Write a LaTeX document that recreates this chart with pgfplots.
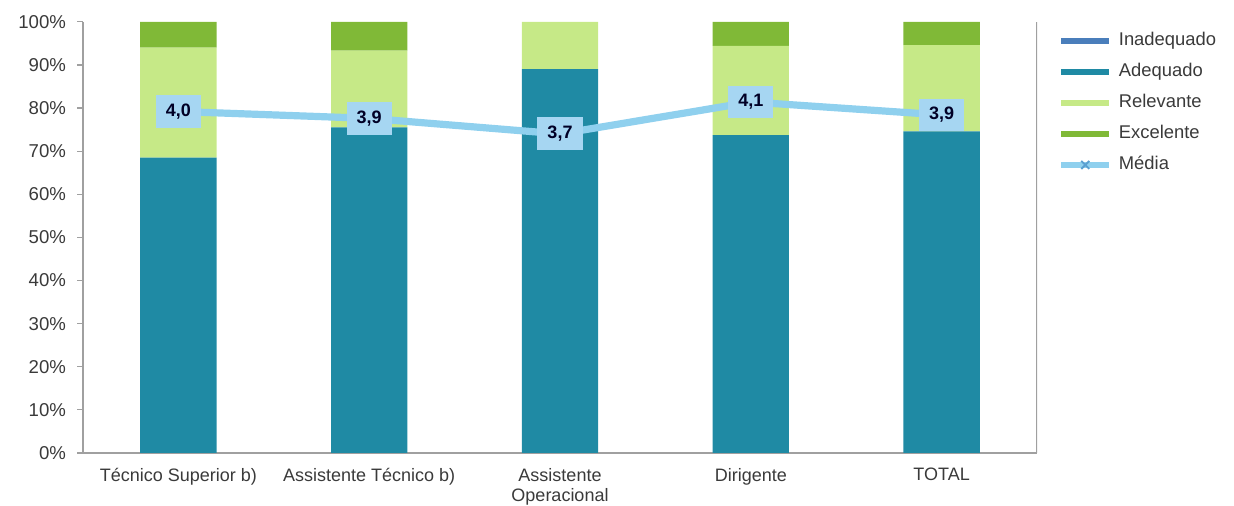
\documentclass[border=0pt]{standalone}
\usepackage{pgfplots}
\pgfplotsset{compat=1.18}
\usepackage{pgfplotstable}
\usepackage{fontspec}
\setmainfont{Liberation Sans}
\definecolor{cInad}{HTML}{4A7EBB}
\definecolor{cAdeq}{HTML}{1F8AA4}
\definecolor{cRel}{HTML}{C6E987}
\definecolor{cExc}{HTML}{80B937}
\definecolor{cMed}{HTML}{8FD0EE}
\definecolor{cLab}{HTML}{A6D6F2}
\definecolor{cMark}{HTML}{5A9FD0}
\definecolor{axgray}{HTML}{A0A0A0}
\definecolor{txt}{HTML}{3A3A3A}

\pgfplotstableread{
x inad adeq rel exc
0 0 68.5 25.5 6.0
1 0 75.5 17.8 6.7
2 0 89.0 11.0 0.0
3 0 73.7 20.7 5.6
4 0 74.6 20.0 5.4
}\bars
\pgfplotstableread{
x media
0 3.96
1 3.88
2 3.70
3 4.07
4 3.92
}\media

\pgfplotsset{
  common/.style={
    scale only axis, width=477pt, height=215.6pt,
    at={(41.5pt,26.5pt)}, anchor=south west,
    xmin=-0.5, xmax=4.5,
  },
  barleg/.style={legend image code/.code={\fill[##1] (0pt,-1.4pt) rectangle (24pt,1.4pt);}},
  medleg/.style={legend image code/.code={%
     \draw[cMed, line width=2.6pt] (0pt,0pt) -- (24pt,0pt);
     \draw[cMark, line width=0.9pt] (10pt,-2pt) -- (14pt,2pt) (10pt,2pt) -- (14pt,-2pt);}},
}

\begin{document}
\begin{tikzpicture}[font=\fontsize{9}{10}\selectfont]
\useasboundingbox (0,0) rectangle (617pt,253pt);
\begin{axis}[common,
  ybar stacked, bar width=0.4,
  ymin=0, ymax=100,
  ytick={0,10,...,100},
  yticklabel={\pgfmathprintnumber{\tick}\%},
  /pgf/number format/assume math mode=true,
  axis x line*=bottom, axis y line*=left,
  axis line style={axgray, line width=0.6pt},
  tick style={axgray, line width=0.6pt},
  tick align=outside,
  ytick pos=left,
  major tick length=3pt,
  xtick={0,1,2,3,4},
  xticklabels={T\'ecnico Superior b),Assistente T\'ecnico b),Assistente\\Operacional,Dirigente,TOTAL},
  x tick style={draw=none},
  extra x ticks={-0.5,0.5,1.5,2.5,3.5,4.5},
  extra x tick labels={},
  extra x tick style={tick style={axgray, line width=0.6pt}, major tick length=3.5pt},
  xticklabel style={align=center, text=txt, font=\fontsize{9}{10}\selectfont, yshift=-1pt},
  yticklabel style={text=txt, xshift=-2pt, font=\fontsize{9.3}{10}\selectfont},
  legend style={draw=none, fill=none, at={(1.016,0.985)}, anchor=north west,
     nodes={inner sep=0pt, text height=6.5pt, text depth=1.8pt, text=txt, anchor=west,
            font=\fontsize{9.2}{10}\selectfont},
     row sep=7.2pt, column sep=3.5pt},
  legend cell align=left,
]
\addplot[fill=cInad, draw=none, barleg] table[x=x, y=inad] {\bars};
\addplot[fill=cAdeq, draw=none, barleg] table[x=x, y=adeq] {\bars};
\addplot[fill=cRel, draw=none, barleg] table[x=x, y=rel] {\bars};
\addplot[fill=cExc, draw=none, barleg] table[x=x, y=exc] {\bars};
\addlegendimage{medleg}
\legend{Inadequado,Adequado,Relevante,Excelente,M\'edia}
\draw[axgray, line width=0.6pt] (rel axis cs:1,0) -- (rel axis cs:1,1);
\end{axis}
\begin{axis}[common, hide axis, ymin=0, ymax=5]
\addplot[color=cMed, line width=3.6pt, mark=none,
  nodes near coords,
  point meta=y,
  nodes near coords style={fill=cLab, text=black!85!blue, font=\bfseries\fontsize{9}{10}\selectfont,
     anchor=center, inner xsep=5pt, inner ysep=4.2pt, text height=6.5pt, text depth=1.5pt,
     /pgf/number format/.cd, fixed, fixed zerofill, precision=1, use comma, assume math mode=true},
] table[x=x, y=media] {\media};
\end{axis}
\end{tikzpicture}
\end{document}
